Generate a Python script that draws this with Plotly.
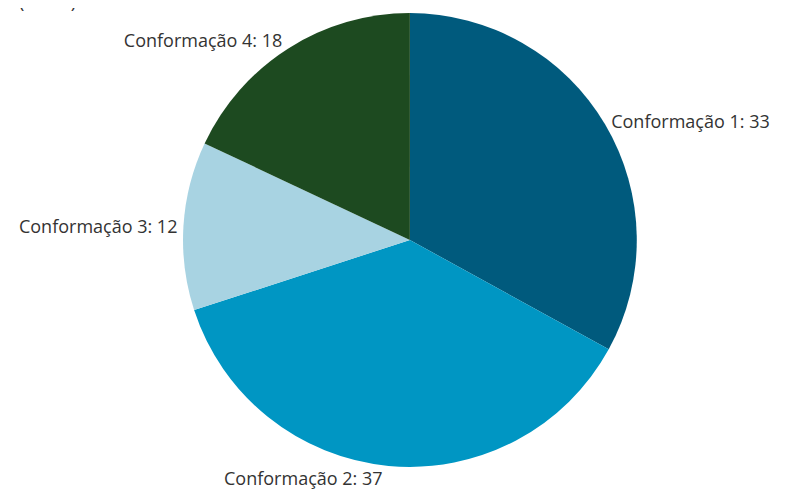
import plotly.graph_objects as go

labels = ["Conformação 1", "Conformação 2", "Conformação 3", "Conformação 4"]
values = [33, 37, 12, 18]
colors = ["#005A7D", "#0096C3", "#A8D3E2", "#1D4A20"]
title_text = "(em %)"

FONT = dict(family="Open Sans", size=18, color="#333333")

fig = go.Figure(go.Pie(
    labels=labels, values=values, sort=False, direction="clockwise", rotation=0,
    marker=dict(colors=colors, line=dict(width=0)),
    texttemplate="%{label}: %{value}", textposition="outside",
    textfont=FONT, automargin=False,
    showlegend=False, hoverinfo="label+value",
    domain=dict(x=[0.2185, 0.785], y=[0.0857, 0.990]),
))
fig.add_annotation(text=title_text, xref="paper", yref="paper", x=0.011, y=0.986,
                   xanchor="left", yanchor="bottom", showarrow=False, font=FONT)
fig.update_layout(
    width=801, height=502, margin=dict(l=0, r=0, t=0, b=0),
    paper_bgcolor="white", plot_bgcolor="white",
)
fig.write_html("out.html")
